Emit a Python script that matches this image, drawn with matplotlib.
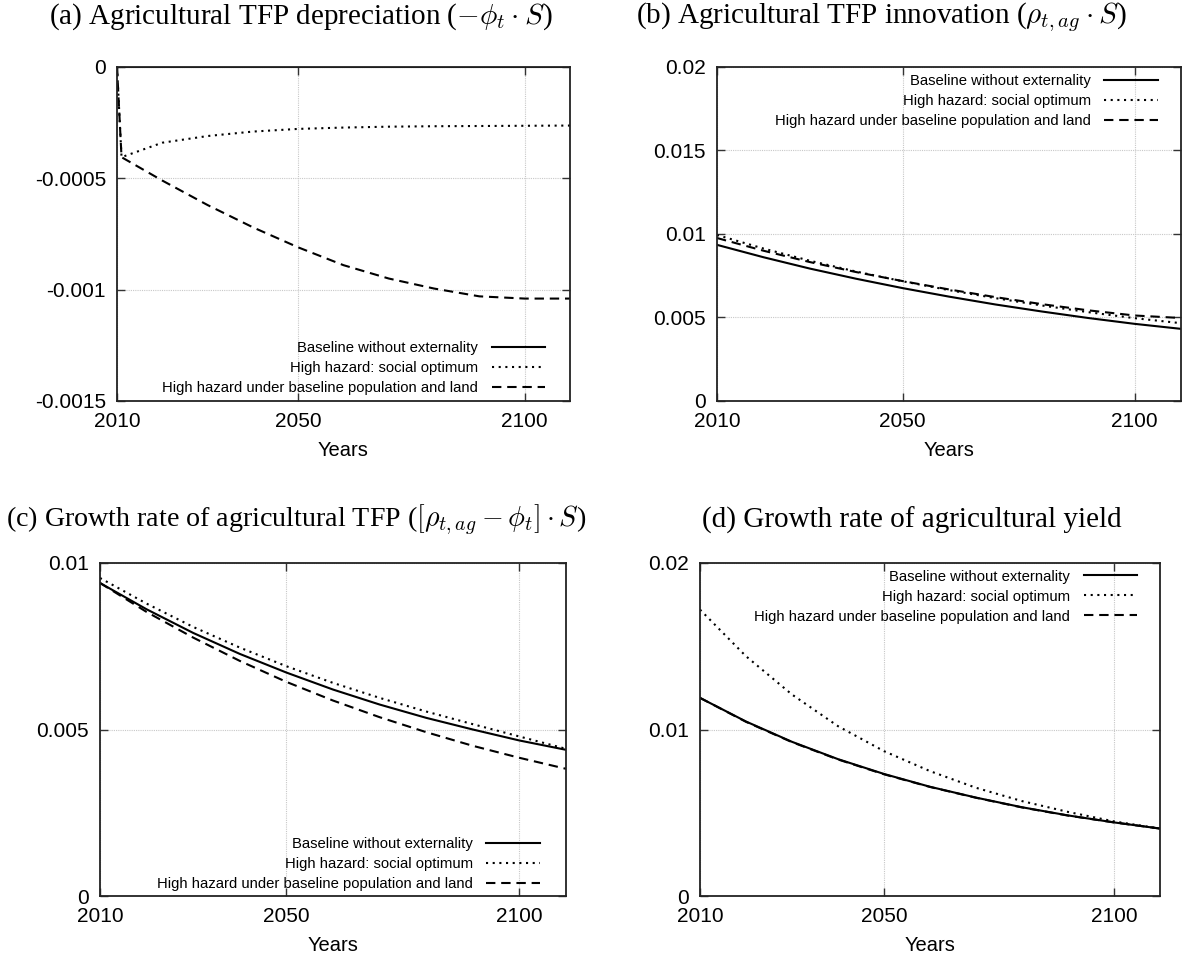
import matplotlib
matplotlib.use("Agg")
import matplotlib.pyplot as plt

plt.rcParams['font.family'] = ['Liberation Sans', 'DejaVu Sans']
plt.rcParams['mathtext.fontset'] = 'cm'
plt.rcParams['axes.unicode_minus'] = False

labels = ["Baseline without externality",
          "High hazard: social optimum",
          "High hazard under baseline population and land"]

# (a) depreciation
years_a = [2010, 2011, 2020, 2030, 2040, 2050, 2060, 2070, 2080, 2090, 2100, 2110]
dep_base = [0, 0, 0, 0, 0, 0, 0, 0, 0, 0, 0, 0]
dep_opt = [0, -0.000405, -0.00034, -0.00031, -0.00029, -0.000278, -0.000272,
           -0.000268, -0.000266, -0.000265, -0.000264, -0.000263]
dep_pop = [0, -0.000405, -0.00051, -0.00062, -0.00072, -0.00081, -0.00089,
           -0.00095, -0.000995, -0.00103, -0.00104, -0.00104]

# (b), (c), (d) every 10 years
years = [2010, 2020, 2030, 2040, 2050, 2060, 2070, 2080, 2090, 2100, 2110]
inn_base = [0.00935, 0.00861, 0.00793, 0.00732, 0.00676, 0.00625, 0.00578, 0.00536, 0.00497, 0.00462, 0.00432]
inn_opt = [0.00994, 0.00913, 0.00840, 0.00775, 0.00717, 0.00664, 0.00616, 0.00572, 0.00532, 0.00496, 0.00466]
inn_pop = [0.00976, 0.00900, 0.00832, 0.00772, 0.00718, 0.00668, 0.00622, 0.00580, 0.00543, 0.00512, 0.00497]

tfp_base = [0.0094, 0.00861, 0.0079, 0.00727, 0.00671, 0.0062, 0.00575, 0.00535, 0.005, 0.00467, 0.00439]
tfp_opt = [0.00955, 0.00878, 0.00808, 0.00746, 0.0069, 0.0064, 0.00595, 0.00554, 0.00516, 0.00479, 0.00442]
tfp_pop = [0.0094, 0.00853, 0.00776, 0.00706, 0.00643, 0.00587, 0.00537, 0.00492, 0.00451, 0.00415, 0.00382]

yld_base = [0.0119, 0.01048, 0.00926, 0.00822, 0.00733, 0.00656, 0.00591, 0.00533, 0.00484, 0.00442, 0.00405]
yld_opt = [0.0172, 0.0144, 0.0121, 0.0102, 0.0087, 0.0075, 0.0065, 0.0057, 0.00505, 0.00448, 0.00405]
yld_pop = [0.0119, 0.01046, 0.00924, 0.0082, 0.00731, 0.00655, 0.0059, 0.00532, 0.00483, 0.00442, 0.00405]

titles = [r"(a) Agricultural TFP depreciation ($-\phi_t \cdot S$)",
          r"(b) Agricultural TFP innovation ($\rho_{t,ag} \cdot S$)",
          r"(c) Growth rate of agricultural TFP ($[\rho_{t,ag} - \phi_t] \cdot S$)",
          "(d) Growth rate of agricultural yield"]
title_sizes = [21, 21, 20.2, 21]

W, H = 1182, 956
fig = plt.figure(figsize=(W / 100, H / 100), dpi=100)


def box(l, t, r, b):
    return [l / W, 1 - b / H, (r - l) / W, (b - t) / H]


panels = [
    (box(117, 67, 570, 401), years_a, [dep_base, dep_opt, dep_pop], (-0.0015, 0), [0, -0.0005, -0.001, -0.0015], 'lower right', (0.945, 0.018), (301, 17)),
    (box(717, 67, 1181, 401), years, [inn_base, inn_opt, inn_pop], (0, 0.02), [0, 0.005, 0.01, 0.015, 0.02], 'upper right', (0.95, 0.978), (881, 17)),
    (box(100, 563, 566, 896), years, [tfp_base, tfp_opt, tfp_pop], (0, 0.01), [0, 0.005, 0.01], 'lower right', (0.944, 0.015), (296, 520)),
    (box(700, 563, 1160, 896), years, [yld_base, yld_opt, yld_pop], (0, 0.02), [0, 0.01, 0.02], 'upper right', (0.95, 0.98), (912, 520)),
]

styles = [dict(linestyle='-', linewidth=1.5),
          dict(linestyle=(0, (1, 2.2)), linewidth=1.5),
          dict(linestyle=(0, (4.5, 2.8)), linewidth=1.5)]

for i, (pos, x, series, ylim, yticks, loc, anchor, tpos) in enumerate(panels):
    ax = fig.add_axes(pos)
    for s, ys, lab in zip(styles, series, labels):
        ax.plot(x, ys, color='black', label=lab, **s)
    ax.set_xlim(2010, 2110)
    ax.set_ylim(*ylim)
    ax.set_xticks([2010, 2050, 2100])
    ax.set_yticks(yticks)
    ax.yaxis.set_major_formatter(matplotlib.ticker.FormatStrFormatter('%g'))
    ax.grid(True, color='#c8c8c8', linestyle=(0, (1, 1)), linewidth=0.8)
    ax.tick_params(direction='in', length=6, width=1, top=True, right=True,
                   labelsize=15, pad=8, color='#333333')
    for sp in ax.spines.values():
        sp.set_linewidth(1.3)
        sp.set_color('#222222')
    ax.set_xlabel('Years', fontsize=14.5, labelpad=7)
    ax.legend(loc=loc, bbox_to_anchor=anchor, frameon=False, markerfirst=False,
              fontsize=10.7, handlelength=3.6, handletextpad=0.9,
              labelspacing=0.4, borderpad=0, borderaxespad=0)
    fig.text(tpos[0] / W, 1 - tpos[1] / H, titles[i], ha='center', va='center',
             fontsize=title_sizes[i], family=['Liberation Serif', 'DejaVu Serif'])

fig.savefig('out.png', dpi=100)
